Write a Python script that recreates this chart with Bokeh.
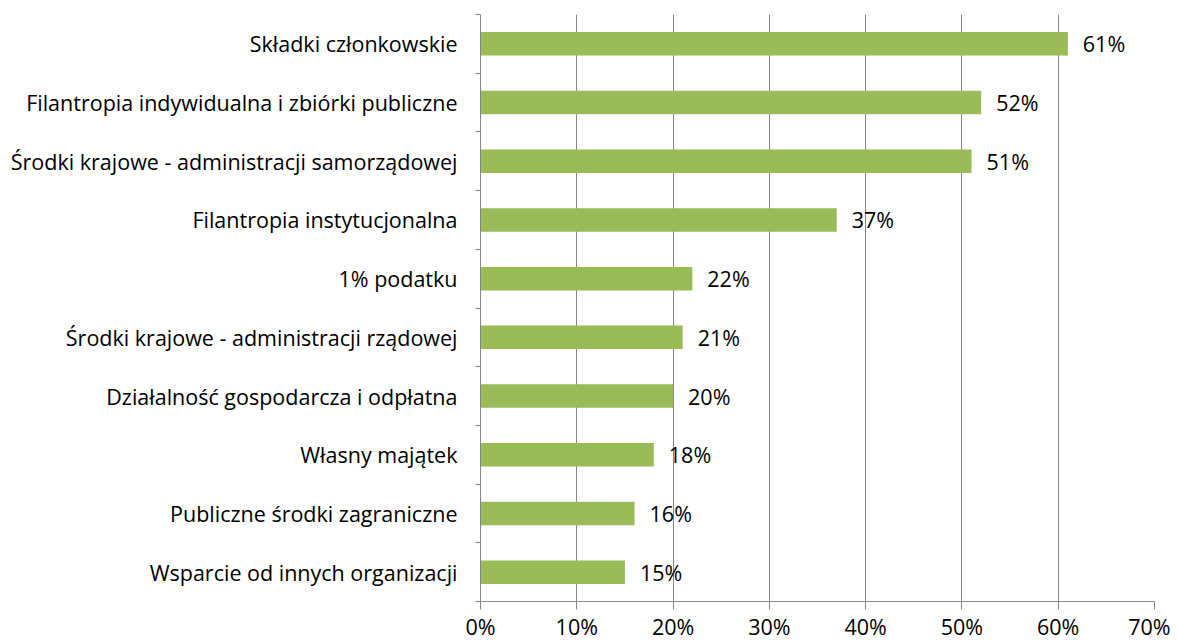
from bokeh.plotting import figure
from bokeh.models import Range1d, FixedTicker, ColumnDataSource, LabelSet
from bokeh.embed import file_html
from bokeh.resources import INLINE
from bokeh.core.properties import value

categories = [
    "Składki członkowskie",
    "Filantropia indywidualna i zbiórki publiczne",
    "Środki krajowe - administracji samorządowej",
    "Filantropia instytucjonalna",
    "1% podatku",
    "Środki krajowe - administracji rządowej",
    "Działalność gospodarcza i odpłatna",
    "Własny majątek",
    "Publiczne środki zagraniczne",
    "Wsparcie od innych organizacji",
]
values = [61, 52, 51, 37, 22, 21, 20, 18, 16, 15]
x_ticks = [0, 10, 20, 30, 40, 50, 60, 70]

FONT = "Open Sans"
FS = "21.5px"
n = len(categories)
ypos = [n - 0.5 - i for i in range(n)]
labels = [f"{v}%" for v in values]

src = ColumnDataSource(dict(y=ypos, v=values, lab=labels))

p = figure(width=1170, height=643, output_backend="svg", toolbar_location=None,
           x_range=Range1d(0, 70), y_range=Range1d(0, n),
           min_border_left=480, min_border_right=16, min_border_top=14, min_border_bottom=40)
p.outline_line_color = None
p.background_fill_color = "white"
p.border_fill_color = "white"

p.hbar(y="y", right="v", left=0, height=0.4, source=src, fill_color="#9BBB59", line_color=None)

lbl = LabelSet(x="v", y="y", text="lab", source=src, x_offset=15, text_baseline="middle",
               text_align="left", text_font=value(FONT), text_font_size=FS, text_color="black")
p.add_layout(lbl)

# x axis
p.xaxis.ticker = FixedTicker(ticks=x_ticks)
p.xaxis.major_label_overrides = {t: f"{t}%" for t in x_ticks}
p.xaxis.axis_line_color = "#868686"
p.xaxis.major_tick_line_color = "#868686"
p.xaxis.major_tick_out = 8
p.xaxis.major_tick_in = 0
p.xaxis.minor_tick_line_color = None
p.xaxis.major_label_text_font = FONT
p.xaxis.major_label_text_font_size = FS
p.xaxis.major_label_text_color = "black"
p.xaxis.major_label_standoff = 2

# y axis
p.yaxis.ticker = FixedTicker(ticks=ypos, minor_ticks=list(range(n + 1)))
p.yaxis.major_label_overrides = {y: c for y, c in zip(ypos, categories)}
p.yaxis.axis_line_color = "#868686"
p.yaxis.major_tick_line_color = None
p.yaxis.major_tick_out = 0
p.yaxis.major_tick_in = 0
p.yaxis.minor_tick_line_color = "#868686"
p.yaxis.minor_tick_out = 5
p.yaxis.minor_tick_in = 0
p.yaxis.major_label_text_font = FONT
p.yaxis.major_label_text_font_size = FS
p.yaxis.major_label_text_color = "black"
p.yaxis.major_label_standoff = 18

p.xgrid.ticker = FixedTicker(ticks=x_ticks)
p.xgrid.grid_line_color = "#868686"
p.ygrid.grid_line_color = None

open("out.html", "w").write(file_html(p, INLINE))
